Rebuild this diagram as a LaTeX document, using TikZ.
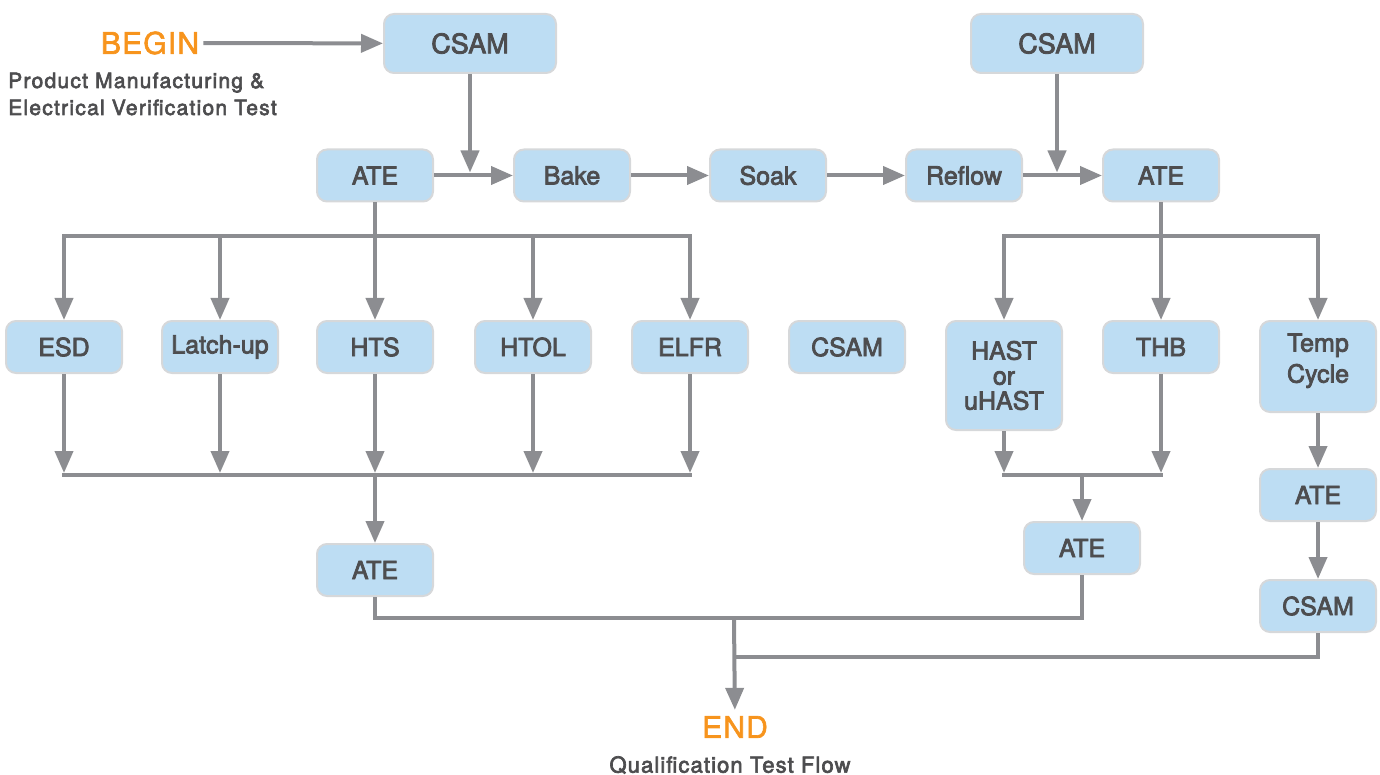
\documentclass[tikz,border=0pt]{standalone}
\usepackage{fontspec}
\newfontfamily\lab[FakeBold=3]{TeX Gyre Heros}
\newfontfamily\labw[FakeBold=3,LetterSpace=6]{TeX Gyre Heros}
\newfontfamily\labq[FakeBold=3,LetterSpace=5]{TeX Gyre Heros}
\newfontfamily\labt[FakeBold=2,LetterSpace=4]{TeX Gyre Heros}
\usetikzlibrary{arrows.meta,calc}
\definecolor{boxfill}{HTML}{BDDDF3}
\definecolor{boxline}{HTML}{D6D8DA}
\definecolor{txt}{HTML}{4D4D4F}
\definecolor{flowc}{HTML}{8C8D91}
\definecolor{orng}{HTML}{F7941D}
\begin{document}
\begin{tikzpicture}[x=1pt,y=-1pt,
  box/.style={draw=boxline, line width=2pt, fill=boxfill, rounded corners=10pt,
    minimum width=116pt, minimum height=52pt, inner sep=0pt, outer sep=1pt,
    font=\lab\fontsize{25}{27}\selectfont, text=txt, align=center},
  bigbox/.style={box, minimum width=172pt, minimum height=59pt, font=\lab\fontsize{27}{30}\selectfont},
  flow/.style={draw=flowc, line width=4pt, -{Triangle[width=18pt,length=22pt]}},
  wire/.style={draw=flowc, line width=4pt},
  bus/.style={wire, line cap=rect},
  termtext/.style={text=orng, font=\labt\fontsize{30}{32}\selectfont, inner sep=4pt},
  note/.style={text=txt, font=\labw\fontsize{21}{24}\selectfont, inner sep=0pt}
]
\useasboundingbox (0,0) rectangle (1380,775);

% top boxes
\node[bigbox] (csamA) at (470,43.5) {CSAM};
\node[bigbox] (csamB) at (1057,43.5) {CSAM};
% row 2
\node[box] (ate1) at (375,175.5) {ATE};
\node[box] (bake) at (572,175.5) {Bake};
\node[box] (soak) at (768,175.5) {Soak};
\node[box] (reflow) at (964,175.5) {Reflow};
\node[box] (ate2) at (1161,175.5) {ATE};
% row 3
\node[box] (esd) at (64,347) {ESD};
\node[box] (latch) at (220,347) {Latch-up};
\node[box] (hts) at (375,347) {HTS};
\node[box] (htol) at (533,347) {HTOL};
\node[box] (elfr) at (690,347) {ELFR};
\node[box] (csamC) at (847,347) {CSAM};
\node[box, minimum height=109pt, font=\lab\fontsize{25}{25}\selectfont] (hast) at (1004,375.5) {HAST\\or\\uHAST};
\node[box] (thb) at (1161,347) {THB};
\node[box, minimum height=91pt, text depth=17pt, font=\lab\fontsize{25}{31}\selectfont] (temp) at (1318,366.5) {Temp\\Cycle};
% lower boxes
\node[box] (ate3) at (375,570) {ATE};
\node[box] (ate4) at (1082,548) {ATE};
\node[box] (ate5) at (1318,495) {ATE};
\node[box] (csamD) at (1318,606) {CSAM};

% texts
\node[termtext] (begin) at (150,43) {BEGIN};
\node[note, anchor=base west] (pm1) at (8,88) {Product Manufacturing \&};
\node[note, anchor=base west] (pm2) at (8,115) {Electrical Verification Test};
\node[termtext] (endn) at (735,727) {END};
\node[note, font=\labq\fontsize{22}{24}\selectfont] (qtf) at (730,765) {Qualification Test Flow};

% top flow
\draw[flow] (begin) -- (csamA);
\coordinate (jA) at ($(csamA.south |- ate1.east)+(0,-3)$);
\coordinate (jB) at ($(csamB.south |- ate2.west)+(0,-3)$);
\draw[flow] (csamA) -- (jA);
\draw[flow] (csamB) -- (jB);
\draw[flow] (ate1) -- (bake);
\draw[flow] (bake) -- (soak);
\draw[flow] (soak) -- (reflow);
\draw[flow] (reflow) -- (ate2);

% left fan-out
\coordinate (busL) at (375,236);
\draw[bus] (esd.north |- busL) -- (elfr.north |- busL);
\draw[flow] (ate1) -- (hts);
\draw[flow] (esd.north |- busL) -- (esd);
\draw[flow] (latch.north |- busL) -- (latch);
\draw[flow] (htol.north |- busL) -- (htol);
\draw[flow] (elfr.north |- busL) -- (elfr);

% left fan-in
\coordinate (busL2) at (375,475);
\draw[bus] (esd.south |- busL2) -- (elfr.south |- busL2);
\foreach \n in {esd,latch,hts,htol,elfr}
  \draw[flow, shorten >=2pt] (\n) -- (\n.south |- busL2);
\draw[flow] (busL2) -- (ate3);

% right fan-out
\coordinate (busR) at (1161,236);
\draw[bus] (hast.north |- busR) -- (temp.north |- busR);
\draw[flow] (ate2) -- (thb);
\draw[flow] (hast.north |- busR) -- (hast);
\draw[flow] (temp.north |- busR) -- (temp);

% right fan-in
\coordinate (busR2) at (1082,475);
\draw[bus] (hast.south |- busR2) -- (thb.south |- busR2);
\draw[flow, shorten >=2pt] (hast) -- (hast.south |- busR2);
\draw[flow, shorten >=2pt] (thb) -- (thb.south |- busR2);
\draw[flow] (busR2) -- (ate4);

% temp cycle chain
\draw[flow] (temp) -- (ate5);
\draw[flow] (ate5) -- (csamD);

% to end
\coordinate (bot) at (734,618);
\coordinate (bot2) at (734,657);
\draw[wire] (ate3.south) |- (bot) -| (ate4.south);
\draw[wire] (csamD.south) |- (bot2);
\draw[flow, shorten >=2pt] (bot) -- (endn);
\end{tikzpicture}
\end{document}
